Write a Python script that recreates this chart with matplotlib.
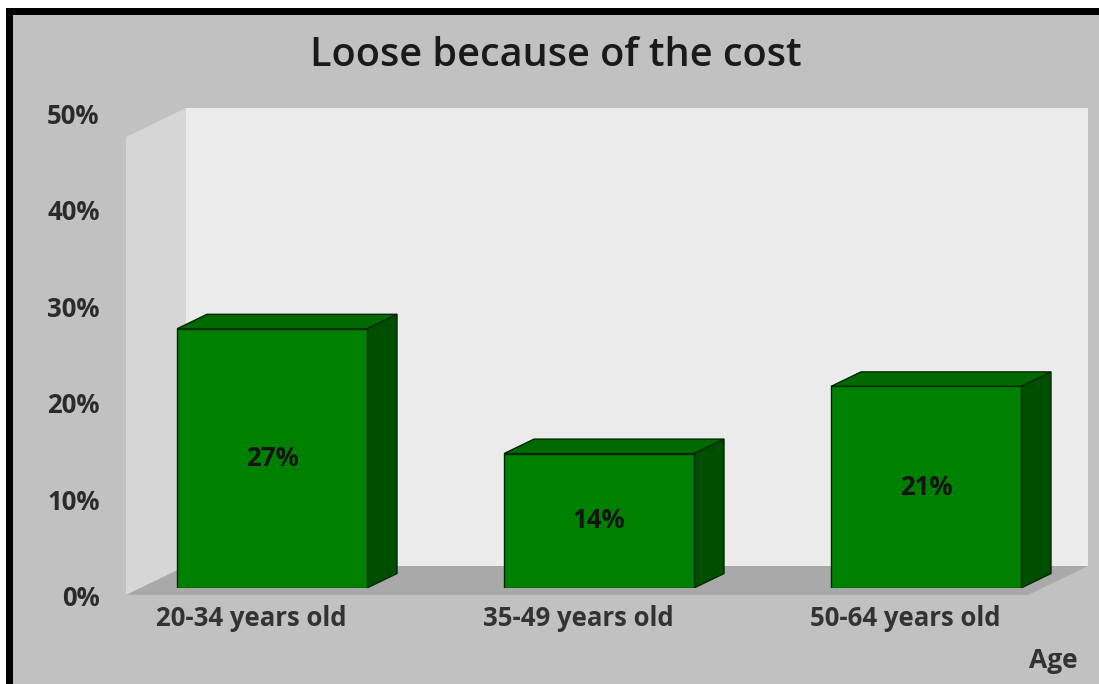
import matplotlib
matplotlib.use("Agg")
import matplotlib.pyplot as plt
from matplotlib.patches import Polygon, Rectangle
import matplotlib.transforms as mtransforms

# ---- data ----
title = "Loose because of the cost"
categories = ["20-34 years old", "35-49 years old", "50-64 years old"]
values = [27, 14, 21]
value_labels = ["27%", "14%", "21%"]
y_ticks = [0, 10, 20, 30, 40, 50]
y_tick_labels = ["0%", "10%", "20%", "30%", "40%", "50%"]
x_axis_label = "Age"

FONT = ["Open Sans", "DejaVu Sans"]
plt.rcParams["font.family"] = FONT

W, H = 1099, 684
fig = plt.figure(figsize=(W / 100, H / 100), dpi=100, facecolor="white")

# frame: black border on top/left, gray panel
fig.add_artist(Rectangle((6 / W, 0), 1, (H - 8) / H, transform=fig.transFigure,
                         facecolor="black", edgecolor="none", zorder=0))
fig.add_artist(Rectangle((13 / W, 0), 1, (H - 15) / H, transform=fig.transFigure,
                         facecolor="#c1c1c1", edgecolor="none", zorder=0))

# main axes: bars are drawn in data coordinates
ax_l, ax_r = 126, 1088          # pixel span of the scene
ax_b, ax_t = 588, 108           # pixel rows for y=0 and y=50
ax = fig.add_axes([ax_l / W, (H - ax_b) / H, (ax_r - ax_l) / W, (ax_b - ax_t) / H])
ax.set_facecolor("none")
x_unit = 327.0                  # pixels per category step
x0_px = 272.0                   # pixel of first category
ax.set_xlim((ax_l - x0_px) / x_unit, (ax_r - x0_px) / x_unit)
ax.set_ylim(0, 50)
for s in ax.spines.values():
    s.set_visible(False)

# 3D depth of scene (in data units)
ddx = 60 / x_unit
ddy = 29 / 9.6
xl, xr = ax.get_xlim()
front_floor = -0.73
back_floor = front_floor + ddy
top_back = 50
top_front = top_back - ddy

# back wall
ax.add_patch(Polygon([(xl + ddx, back_floor), (xr, back_floor), (xr, top_back),
                      (xl + ddx, top_back)], closed=True, facecolor="#ebebeb",
                     edgecolor="none", clip_on=False, zorder=1))
# left side wall
ax.add_patch(Polygon([(xl, front_floor), (xl + ddx, back_floor), (xl + ddx, top_back),
                      (xl, top_front)], closed=True, facecolor="#d6d6d6",
                     edgecolor="none", clip_on=False, zorder=1))
# floor
ax.add_patch(Polygon([(xl, front_floor), (xl + ddx, back_floor), (xr, back_floor),
                      (xr - ddx, front_floor)], closed=True, facecolor="#a9a9a9",
                     edgecolor="none", clip_on=False, zorder=1))

# bars (3D look)
bw = 190 / x_unit
bdx, bdy = ddx / 2, ddy / 2
edge = "#002800"
for i, v in enumerate(values):
    x1, x2 = i - bw / 2, i + bw / 2
    ax.add_patch(Polygon([(x2, 0), (x2 + bdx, bdy), (x2 + bdx, v + bdy), (x2, v)],
                         closed=True, facecolor="#004f00", edgecolor=edge, lw=1, zorder=3))
    ax.add_patch(Polygon([(x1, v), (x2, v), (x2 + bdx, v + bdy), (x1 + bdx, v + bdy)],
                         closed=True, facecolor="#006900", edgecolor=edge, lw=1, zorder=3))
    ax.add_patch(Rectangle((x1, 0), bw, v, facecolor="#008000", edgecolor=edge,
                           lw=1, zorder=4))
    ax.text(i, v / 2, value_labels[i], ha="center", va="center", fontsize=18.5,
            fontweight="bold", color="#141414", zorder=5)

# category labels
ax.set_xticks(range(len(categories)))
ax.set_xticklabels(categories, fontsize=18.5, fontweight="bold", color="#333333")
ax.tick_params(axis="x", length=0, pad=12)
off = mtransforms.ScaledTranslation(-21 / 100, 0, fig.dpi_scale_trans)
for lbl in ax.get_xticklabels():
    lbl.set_transform(lbl.get_transform() + off)
ax.set_yticks([])

ax.set_xlabel(x_axis_label, fontsize=19, fontweight="bold", color="#333333",
              ha="right", va="center")
ax.xaxis.set_label_coords((1078 - ax_l) / (ax_r - ax_l), (ax_b - 660) / (ax_b - ax_t))

# y tick labels on the front plane
lb, lt = 596, 113
ax2 = fig.add_axes([ax_l / W, (H - lb) / H, 0.001, (lb - lt) / H])
ax2.set_facecolor("none")
for s in ax2.spines.values():
    s.set_visible(False)
ax2.set_ylim(0, 50)
ax2.set_xticks([])
ax2.set_yticks(y_ticks)
ax2.set_yticklabels(y_tick_labels, fontsize=18.5, fontweight="bold", color="#2b2b2b")
ax2.tick_params(axis="y", length=0, pad=19)

fig.text(556 / W, (H - 56) / H, title, ha="center", va="center", fontsize=28.5,
         color="#1a1a1a", fontweight="semibold")

fig.savefig("out.png", dpi=100, facecolor=fig.get_facecolor())
